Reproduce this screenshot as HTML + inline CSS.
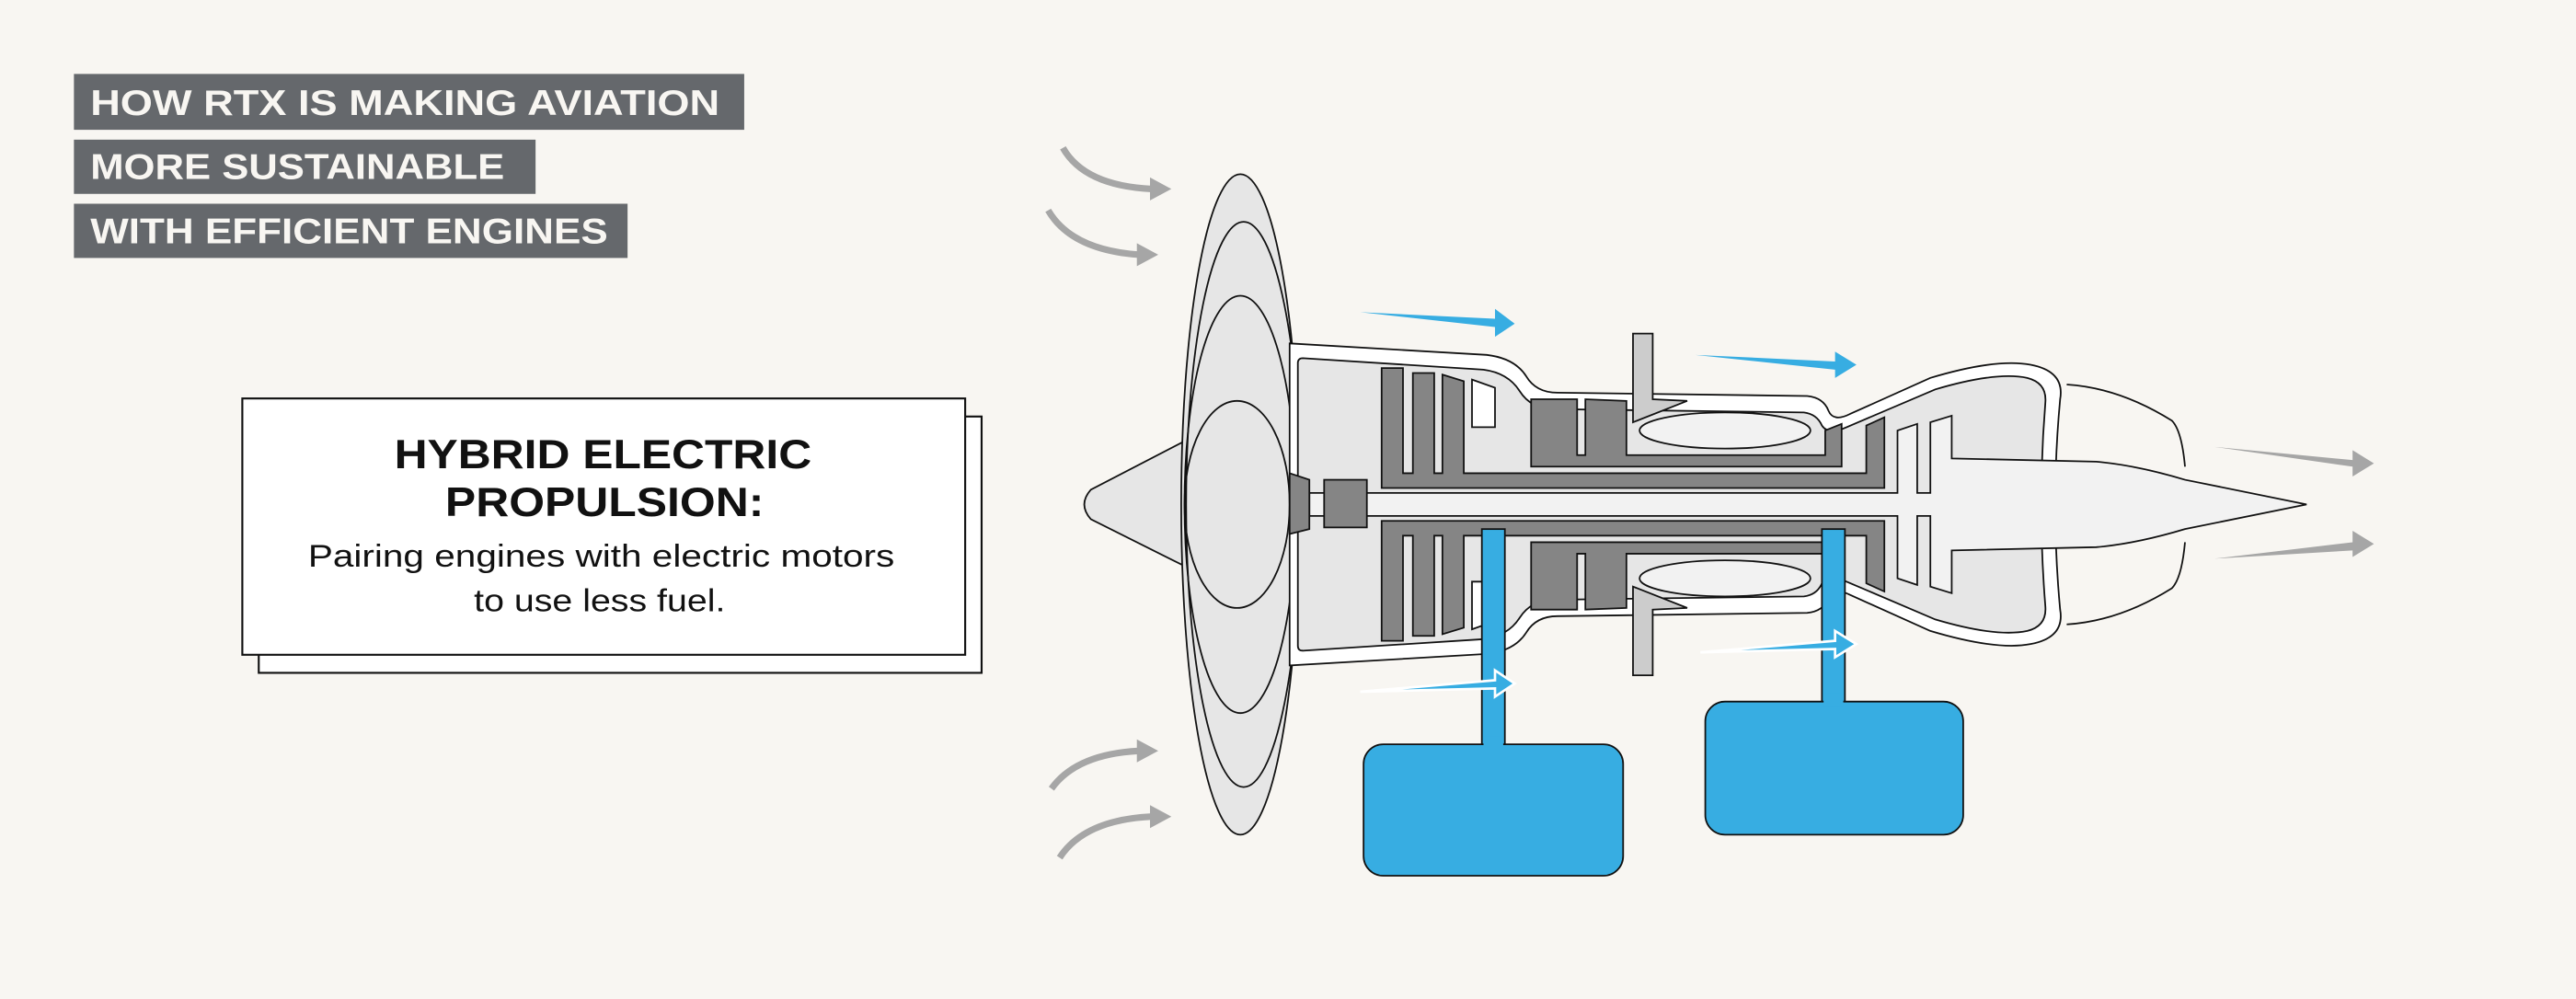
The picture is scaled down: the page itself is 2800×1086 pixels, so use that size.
<!DOCTYPE html>
<html><head><meta charset="utf-8"><style>
html,body{margin:0;padding:0;background:#f8f6f2;}
svg{display:block;}
</style></head><body>
<svg width="2800" height="1086" viewBox="0 0 1568 608" preserveAspectRatio="none" xmlns="http://www.w3.org/2000/svg">
<rect x="0" y="0" width="1568" height="608" fill="#f8f6f2"/>
<!-- title bars -->
<rect x="45" y="45" width="408" height="34" fill="#65686c"/>
<rect x="45" y="85" width="281" height="33" fill="#65686c"/>
<rect x="45" y="124" width="337" height="33" fill="#65686c"/>
<g font-family="Liberation Sans, sans-serif" font-weight="bold" font-size="22" fill="#f8f6f2">
<text x="55" y="70" textLength="383" lengthAdjust="spacingAndGlyphs">HOW RTX IS MAKING AVIATION</text>
<text x="55" y="109" textLength="252" lengthAdjust="spacingAndGlyphs">MORE SUSTAINABLE</text>
<text x="55" y="148" textLength="315" lengthAdjust="spacingAndGlyphs">WITH EFFICIENT ENGINES</text>
</g>
<!-- text box -->
<rect x="157.5" y="253.5" width="440" height="156" fill="#fff" stroke="#111" stroke-width="1.2"/>
<rect x="147.5" y="242.5" width="440" height="156" fill="#fff" stroke="#111" stroke-width="1.2"/>
<g font-family="Liberation Sans, sans-serif" fill="#111" text-anchor="middle">
<text x="367" y="285" font-size="25" font-weight="bold" textLength="254" lengthAdjust="spacingAndGlyphs">HYBRID ELECTRIC</text>
<text x="368" y="314" font-size="25" font-weight="bold" textLength="194" lengthAdjust="spacingAndGlyphs">PROPULSION:</text>
<text x="366" y="345" font-size="19" textLength="357" lengthAdjust="spacingAndGlyphs">Pairing engines with electric motors</text>
<text x="365" y="372" font-size="19" textLength="153" lengthAdjust="spacingAndGlyphs">to use less fuel.</text>
</g>
<!-- curved gray arrows -->
<g fill="none" stroke="#a6a6a6" stroke-width="4">
<path d="M647,90 Q660,113 701,115"/>
<path d="M638,128 Q652,152 693,155"/>
<path d="M640,480 Q655,459 693,457"/>
<path d="M645,522 Q660,499 701,497"/>
</g>
<g fill="#a6a6a6">
<polygon points="700,108 713,115 700,122"/>
<polygon points="692,148 705,155 692,162"/>
<polygon points="692,450 705,457 692,464"/>
<polygon points="700,490 713,497 700,504"/>
<polygon points="1348,272 1432,280 1432,274 1445,282 1432,290 1432,284"/>
<polygon points="1348,340 1432,330 1432,323 1445,331 1432,339 1432,335"/>
</g>
<!-- spinner cone -->
<path d="M722,268 L664,298 Q656,307 664,316 L722,345 Z" fill="#e6e6e6" stroke="#111" stroke-width="1"/>
<!-- fan -->
<clipPath id="fc"><ellipse cx="755" cy="307" rx="36" ry="201"/></clipPath>
<ellipse cx="755" cy="307" rx="36" ry="201" fill="#e6e6e6" stroke="#111" stroke-width="1"/>
<g clip-path="url(#fc)" fill="none" stroke="#111" stroke-width="1">
<ellipse cx="757" cy="307" rx="35" ry="172"/>
<ellipse cx="755" cy="307" rx="34" ry="127"/>
<ellipse cx="753" cy="307" rx="32" ry="63"/>
</g>
<!-- outer casing -->
<path d="M785,209 L905,216 Q922,218 929,229 Q935,239 948,239 L1100,241 Q1110,242 1113,250 Q1116,257 1126,252 L1175,230 Q1215,218 1236,222 Q1257,226 1254,243 Q1248,307 1254,371 Q1257,388 1236,392 Q1215,396 1175,384 L1126,362 Q1116,357 1113,364 Q1110,372 1100,373 L948,375 Q935,375 929,385 Q922,396 905,398 L785,405 Z" fill="#fff" stroke="#111" stroke-width="1"/>
<path d="M793,218 L903,225 Q918,227 925,238 Q932,249 946,249 L1098,251 Q1106,252 1109,259 Q1113,265 1124,260 L1178,237 Q1215,226 1234,230 Q1246,233 1245,245 Q1240,307 1245,369 Q1246,381 1234,384 Q1215,388 1178,377 L1124,354 Q1113,349 1109,355 Q1106,362 1098,363 L946,365 Q932,365 925,376 Q918,387 903,389 L793,396 Q790,396 790,393 L790,221 Q790,218 793,218Z" fill="#e6e6e6" stroke="#111" stroke-width="1"/>
<!-- nozzle -->
<g fill="none" stroke="#111" stroke-width="1">
<path d="M1258,234 Q1290,236 1322,256 Q1328,262 1330,284"/>
<path d="M1258,380 Q1290,378 1322,358 Q1328,352 1330,330"/>
</g>
<!-- shaft + turbine + tail cone -->
<path d="M797,300 L1155,300 L1155,262 L1167,258 L1167,300 L1175,300 L1175,257 L1188,253 L1188,279 L1276,281 Q1300,283 1330,292 L1404,307 L1330,322 Q1300,331 1276,333 L1188,335 L1188,361 L1175,357 L1175,314 L1167,314 L1167,356 L1155,352 L1155,314 L797,314 Z" fill="#f2f2f2" stroke="#111" stroke-width="1"/>
<!-- dark components top + mirrored -->
<g id="half">
<path d="M841,224 L854,224 L854,288 L860,288 L860,227 L873,227 L873,288 L878,288 L878,228 L891,232 L891,288 L1136,288 L1136,259 L1147,254 L1147,297 L841,297 Z" fill="#858585" stroke="#111" stroke-width="1"/>
<path d="M896,231 L910,236 L910,260 L896,260 Z" fill="#fff" stroke="#111" stroke-width="1"/>
<path d="M932,243 L960,243 L960,277 L965,277 L965,243 L990,244 L990,277 L1111,277 L1111,262 L1121,258 L1121,284 L932,284 Z" fill="#858585" stroke="#111" stroke-width="1"/>
<ellipse cx="1050" cy="262" rx="52" ry="11" fill="#f2f2f2" stroke="#111" stroke-width="1"/>
<path d="M994,203 L1006,203 L1006,243 L1027,244 L994,257 Z" fill="#cccccc" stroke="#111" stroke-width="1"/>
</g>
<use href="#half" transform="matrix(1,0,0,-1,0,614)"/>
<!-- hub -->
<path d="M785,288 L797,292 L797,322 L785,325 Z" fill="#858585" stroke="#111" stroke-width="1"/>
<rect x="806" y="292" width="26" height="29" fill="#858585" stroke="#111" stroke-width="1"/>
<!-- blue bars & boxes -->
<g fill="#37ade2" stroke="#111" stroke-width="1">
<rect x="902" y="322" width="14" height="135"/>
<rect x="1109" y="322" width="14" height="110"/>
<rect x="830" y="453" width="158" height="80" rx="12"/>
<rect x="1038" y="427" width="157" height="81" rx="12"/>
</g>
<rect x="903" y="448" width="12" height="8" fill="#37ade2"/>
<rect x="1110" y="422" width="12" height="8" fill="#37ade2"/>
<!-- blue arrows -->
<g fill="#37ade2">
<polygon points="828,190 910,194 910,188 922,197 910,205 910,199"/>
<polygon points="1032,216 1117,220 1117,214 1130,222 1117,230 1117,225"/>
</g>
<g fill="#37ade2" stroke="#fff" stroke-width="1.5">
<polygon points="828,421 910,414 910,408 922,416 910,424 910,419"/>
<polygon points="1035,397 1117,390 1117,384 1130,392 1117,400 1117,395"/>
</g>
</svg>
</body></html>
